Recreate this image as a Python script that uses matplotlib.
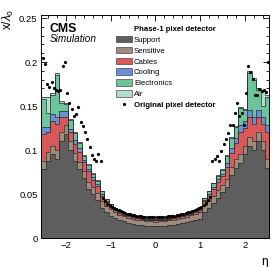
import numpy as np
import matplotlib
matplotlib.use("Agg")
import matplotlib.pyplot as plt
from matplotlib.patches import Patch
from matplotlib.lines import Line2D

plt.rcParams['font.family'] = ['Liberation Sans', 'DejaVu Sans']
plt.rcParams['mathtext.fontset'] = 'custom'
plt.rcParams['mathtext.rm'] = 'Liberation Sans'
plt.rcParams['mathtext.it'] = 'Liberation Sans:italic'

# ---- data: stacked material budget, bins of 0.1 in eta (-2.55 .. 2.55) ----
bin_edges = np.round(np.arange(-2.55, 2.551, 0.1), 3)

support = [0.078, 0.088, 0.095, 0.090, 0.110, 0.118, 0.100, 0.088, 0.078, 0.068,
           0.056, 0.050, 0.043, 0.034, 0.029, 0.0255, 0.0228, 0.0205, 0.0188, 0.0174,
           0.0162, 0.0152, 0.0144, 0.0138, 0.0134, 0.0132, 0.0134, 0.0138, 0.0144, 0.0152,
           0.0162, 0.0173, 0.0184, 0.0196, 0.0208, 0.0220, 0.030, 0.034, 0.040, 0.046,
           0.052, 0.058, 0.072, 0.080, 0.085, 0.095, 0.105, 0.100, 0.110, 0.100, 0.080]
sensitive = [0.010, 0.010, 0.010, 0.010, 0.010, 0.010, 0.010, 0.009, 0.008, 0.008,
             0.008, 0.008, 0.008, 0.008, 0.0075, 0.007, 0.0065, 0.0062, 0.006, 0.0058,
             0.0057, 0.0056, 0.0055, 0.0055, 0.0055, 0.0055, 0.0055, 0.0055, 0.0055, 0.0056,
             0.0057, 0.0058, 0.006, 0.0062, 0.0065, 0.007, 0.0075, 0.008, 0.008, 0.008,
             0.008, 0.009, 0.009, 0.010, 0.010, 0.010, 0.010, 0.010, 0.010, 0.010, 0.010]
cables = [0.030, 0.022, 0.028, 0.030, 0.018, 0.010, 0.010, 0.010, 0.012, 0.010,
          0.012, 0.008, 0.008, 0.006, 0.004, 0.003, 0.0025, 0.002, 0.0018, 0.0016,
          0.0015, 0.0014, 0.0013, 0.0013, 0.0012, 0.0012, 0.0012, 0.0013, 0.0013, 0.0014,
          0.0015, 0.0016, 0.0018, 0.002, 0.0025, 0.003, 0.004, 0.006, 0.008, 0.010,
          0.010, 0.014, 0.016, 0.018, 0.025, 0.020, 0.022, 0.020, 0.018, 0.020, 0.030]
cooling = [0.008, 0.006, 0.008, 0.008, 0.006, 0.006, 0.004, 0.004, 0.004, 0.003,
           0.003, 0.003, 0.002, 0.002, 0.0015, 0.0012, 0.001, 0.0009, 0.0008, 0.0008,
           0.0007, 0.0007, 0.0007, 0.0006, 0.0006, 0.0006, 0.0006, 0.0006, 0.0007, 0.0007,
           0.0007, 0.0008, 0.0008, 0.0009, 0.001, 0.0012, 0.0015, 0.002, 0.002, 0.003,
           0.003, 0.004, 0.005, 0.006, 0.008, 0.008, 0.008, 0.008, 0.008, 0.008, 0.008]
electronics = [0.032, 0.016, 0.022, 0.047, 0.010, 0.008, 0.010, 0.008, 0.006, 0.004,
               0.004, 0.004, 0.004, 0.003, 0.002, 0.0015, 0.0012, 0.001, 0.0009, 0.0008,
               0.0008, 0.0007, 0.0007, 0.0007, 0.0007, 0.0007, 0.0007, 0.0007, 0.0007, 0.0007,
               0.0008, 0.0008, 0.0009, 0.001, 0.0012, 0.0015, 0.002, 0.003, 0.004, 0.004,
               0.004, 0.008, 0.012, 0.012, 0.020, 0.012, 0.043, 0.042, 0.022, 0.012, 0.032]
air = [0.002, 0.018, 0.002, 0.002, 0.002, 0.002, 0.001, 0.001, 0.001, 0.001,
       0.001, 0.0008, 0.0006, 0.0005, 0.0004, 0.0003, 0.0003, 0.0003, 0.0003, 0.0003,
       0.0002, 0.0002, 0.0002, 0.0002, 0.0002, 0.0002, 0.0002, 0.0002, 0.0002, 0.0002,
       0.0003, 0.0003, 0.0003, 0.0003, 0.0003, 0.0003, 0.0004, 0.0005, 0.0006, 0.0008,
       0.001, 0.001, 0.001, 0.001, 0.001, 0.002, 0.002, 0.002, 0.002, 0.018, 0.002]

component_names = ["Support", "Sensitive", "Cables", "Cooling", "Electronics", "Air"]
component_colors = ["#5e5e5e", "#9d8b7b", "#d9585a", "#6b8fd6", "#6cc49a", "#b5dbcb"]

# ---- original pixel detector (dots), bins of 0.05 ----
orig_eta = np.round(np.arange(-2.525, 2.526, 0.05), 3)
orig_vals = [0.205, 0.198, 0.175, 0.172, 0.177, 0.170, 0.168, 0.167, 0.168, 0.195,
             0.200, 0.165, 0.153, 0.147, 0.139, 0.141, 0.149, 0.132, 0.127, 0.121,
             0.112, 0.104, 0.094, 0.090, 0.087, 0.096, 0.087, 0.046, 0.042, 0.039,
             0.0372, 0.0358, 0.0342, 0.0328, 0.0315, 0.0303, 0.0292, 0.0283, 0.0275, 0.0268,
             0.0262, 0.0257, 0.0252, 0.0248, 0.0245, 0.0243, 0.0241, 0.0240, 0.0239, 0.0238,
             0.0238,
             0.0238, 0.0239, 0.0240, 0.0241, 0.0243, 0.0245, 0.0248, 0.0251, 0.0255, 0.0259,
             0.0264, 0.0270, 0.0277, 0.0284, 0.0292, 0.0300, 0.0310, 0.0320, 0.0332, 0.0345,
             0.0358, 0.0375, 0.0400, 0.0430, 0.0465, 0.0870, 0.0900, 0.0930, 0.0880, 0.0985,
             0.1070, 0.1130, 0.1190, 0.1290, 0.1290, 0.1420, 0.1540, 0.1390, 0.1420, 0.1290,
             0.1650, 0.1950, 0.1890, 0.1810, 0.1620, 0.1620, 0.1690, 0.1670, 0.1680, 0.1660,
             0.2000]

x_ticks = [-2, -1, 0, 1, 2]
y_ticks = [0, 0.05, 0.1, 0.15, 0.2, 0.25]
y_ticklabels = ["0", "0.05", "0.1", "0.15", "0.2", "0.25"]

# ---- figure ----
W, H = 275, 267
fig = plt.figure(figsize=(W / 100, H / 100), dpi=100)
ax = fig.add_axes([41 / W, 1 - 238 / H, (269 - 41) / W, (238 - 15) / H])

components = [support, sensitive, cables, cooling, electronics, air]
bottom = np.zeros(len(support))
for vals, col in zip(components, component_colors):
    top = bottom + np.array(vals)
    ax.stairs(top, bin_edges, baseline=bottom, fill=True, color=col, lw=0, zorder=2)
    bottom = top
bottom = np.zeros(len(support))
for vals in components:
    top = bottom + np.array(vals)
    ax.stairs(top, bin_edges, baseline=None, color="#2b2b2b", lw=0.5, zorder=3)
    bottom = top

ax.plot(orig_eta, orig_vals, 'o', color='black', ms=2.3, mew=0, zorder=5)

ax.set_xlim(-2.56, 2.54)
ax.set_ylim(0, 0.2535)
ax.set_xticks(x_ticks)
ax.set_xticklabels(["\u22122", "\u22121", "0", "1", "2"])
ax.set_xticks(np.arange(-2.4, 2.41, 0.2), minor=True)
ax.set_yticks(y_ticks)
ax.set_yticklabels(y_ticklabels)
ax.set_yticks(np.arange(0, 0.251, 0.01), minor=True)
ax.tick_params(which='both', direction='in', top=True, right=True, labelsize=6.8,
               width=0.6, color='black')
ax.tick_params(which='major', length=4.5, pad=2.5)
ax.tick_params(which='minor', length=2.3)
for s in ax.spines.values():
    s.set_linewidth(0.7)

fig.text(268 / W, 1 - 262 / H, "\u03b7", ha='right', va='center', fontsize=8.5)
fig.text(8.5 / W, 1 - 19 / H, r"x/$\lambda_0$", ha='center', va='center',
         rotation=90, fontsize=8.5)

ax.text(50 / W, 1 - 32 / H, "CMS", transform=fig.transFigure, fontsize=8.8,
        fontweight='bold', ha='left', va='baseline')
ax.text(50 / W, 1 - 42 / H, "Simulation", transform=fig.transFigure, fontsize=7.2,
        style='italic', ha='left', va='baseline')

handles = [Patch(facecolor='none', edgecolor='none')]
labels = ["Phase-1 pixel detector"]
for name, col in zip(component_names, component_colors):
    handles.append(Patch(facecolor=col, edgecolor='#2b2b2b', lw=0.4))
    labels.append(name)
handles.append(Line2D([], [], marker='o', ls='none', color='black', ms=2.3, mew=0))
labels.append("Original pixel detector")
leg = ax.legend(handles, labels, loc='upper left', bbox_to_anchor=(116 / W, 1 - 25 / H),
                bbox_transform=fig.transFigure, frameon=False, fontsize=5.6,
                handlelength=2.0, handleheight=0.9, handletextpad=0.3,
                labelspacing=0.38, borderpad=0, borderaxespad=0)
texts = leg.get_texts()
texts[0].set_fontweight('bold')
texts[-1].set_fontweight('bold')

fig.savefig("out.png", dpi=100)
